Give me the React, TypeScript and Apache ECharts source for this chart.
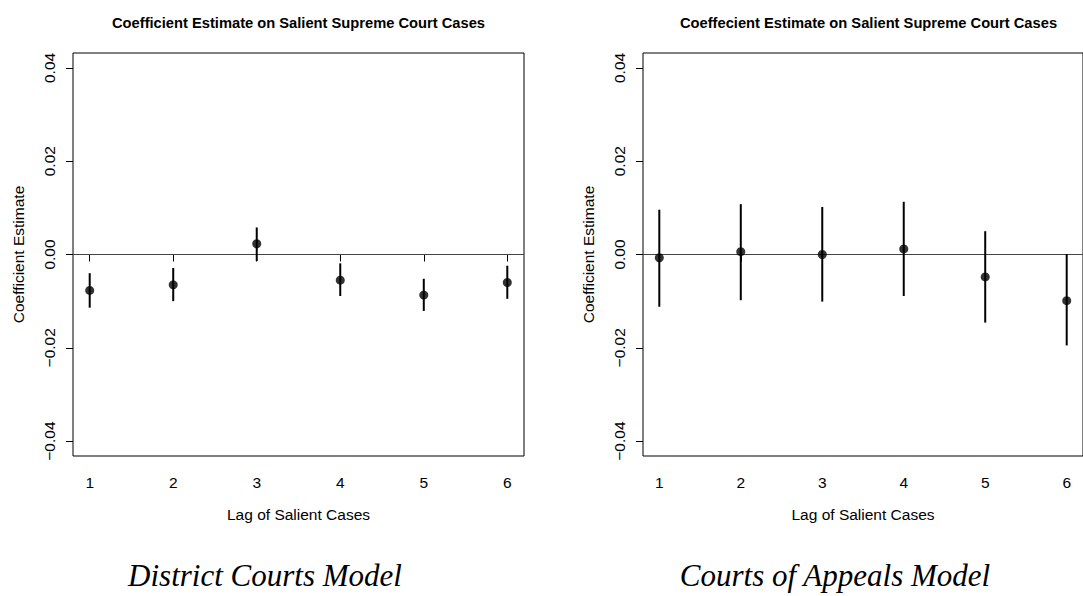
import React, { useEffect, useRef } from "react";
import * as echarts from "echarts";

const lags = [1, 2, 3, 4, 5, 6];
const districtEst = [-0.0077, -0.0065, 0.0023, -0.0055, -0.0087, -0.006];
const districtLow = [-0.0114, -0.01, -0.0014, -0.0089, -0.0121, -0.0095];
const districtHigh = [-0.004, -0.0029, 0.0058, -0.0019, -0.0052, -0.0024];
const appealsEst = [-0.0007, 0.0006, 0.0, 0.0012, -0.0048, -0.0099];
const appealsLow = [-0.0112, -0.0098, -0.0101, -0.0089, -0.0146, -0.0195];
const appealsHigh = [0.0096, 0.0108, 0.0102, 0.0113, 0.005, 0.0001];
const yTicks = [-0.04, -0.02, 0, 0.02, 0.04];
const xTicks = [1, 2, 3, 4, 5, 6];
const titles = [
  "Coefficient Estimate on Salient Supreme Court Cases",
  "Coeffecient Estimate on Salient Supreme Court Cases",
];
const captions = ["District Courts Model", "Courts of Appeals Model"];
const xName = "Lag of Salient Cases";
const yName = "Coefficient Estimate";

const FONT = "'Liberation Sans', Arial, Helvetica, sans-serif";
const SERIF = "'Liberation Serif', 'DejaVu Serif', serif";
const FS = 15.5;

const fmt = (v: number) => {
  const s = Math.abs(v).toFixed(2);
  return v < 0 ? "\u2212" + s : s;
};

const panels = [
  { est: districtEst, low: districtLow, high: districtHigh, left: 73, titleX: 298.5, capX: 265 },
  { est: appealsEst, low: appealsLow, high: appealsHigh, left: 643, titleX: 868.5, capX: 835 },
];

export default function App() {
  const ref = useRef<HTMLDivElement>(null);
  useEffect(() => {
    if (!ref.current) return;
    const chart = echarts.init(ref.current, null, { renderer: "svg" });
    const grids: any[] = [];
    const xAxes: any[] = [];
    const yAxes: any[] = [];
    const series: any[] = [];
    const graphics: any[] = [];
    panels.forEach((p, i) => {
      grids.push({
        left: p.left,
        top: 53,
        width: 451,
        height: 403,
        show: true,
        borderColor: "#000",
        borderWidth: 1,
        backgroundColor: "transparent",
      });
      xAxes.push({
        type: "value",
        gridIndex: i,
        min: 0.8,
        max: 6.2,
        position: "bottom",
        axisLine: { show: false },
        axisTick: { show: true, customValues: xTicks, length: 7, lineStyle: { color: "#000", width: 1 } },
        axisLabel: { customValues: xTicks, margin: 18, fontSize: FS, color: "#000", fontFamily: FONT },
        splitLine: { show: false },
        name: xName,
        nameLocation: "middle",
        nameGap: 50,
        nameTextStyle: { fontSize: FS, color: "#000", fontFamily: FONT },
      });
      yAxes.push({
        type: "value",
        gridIndex: i,
        min: -0.0432,
        max: 0.0432,
        position: "left",
        axisLine: { show: false },
        axisTick: { show: true, customValues: yTicks, length: 7, lineStyle: { color: "#000", width: 1 } },
        axisLabel: {
          customValues: yTicks,
          rotate: 90,
          formatter: fmt,
          margin: 16,
          fontSize: FS,
          color: "#000",
          fontFamily: FONT,
        },
        splitLine: { show: false },
        name: yName,
        nameLocation: "middle",
        nameGap: 47,
        nameRotate: 90,
        nameTextStyle: { fontSize: FS, color: "#000", fontFamily: FONT },
      });
      series.push({
        type: "custom",
        xAxisIndex: i,
        yAxisIndex: i,
        data: lags.map((x, k) => [x, p.low[k], p.high[k]]),
        renderItem: (params: any, api: any) => {
          const a = api.coord([api.value(0), api.value(1)]);
          const b = api.coord([api.value(0), api.value(2)]);
          return {
            type: "line",
            shape: { x1: a[0], y1: a[1], x2: b[0], y2: b[1] },
            style: { stroke: "#000", lineWidth: 2 },
          };
        },
        silent: true,
        z: 2,
      });
      series.push({
        type: "scatter",
        xAxisIndex: i,
        yAxisIndex: i,
        data: lags.map((x, k) => [x, p.est[k]]),
        symbol: "circle",
        symbolSize: 9,
        itemStyle: { color: "#000" },
        silent: true,
        z: 3,
        markLine: {
          silent: true,
          symbol: "none",
          label: { show: false },
          lineStyle: { color: "#444", width: 1, type: "solid" },
          data: [{ yAxis: 0 }],
          z: 1,
        },
      });
      graphics.push({
        type: "text",
        x: p.titleX,
        y: 23,
        style: {
          text: titles[i],
          font: `bold 14.7px ${FONT}`,
          fill: "#000",
          textAlign: "center",
          textVerticalAlign: "middle",
        },
      });
      graphics.push({
        type: "text",
        x: p.capX,
        y: 575,
        style: {
          text: captions[i],
          font: `italic 31px ${SERIF}`,
          fill: "#000",
          textAlign: "center",
          textVerticalAlign: "middle",
        },
      });
    });
    chart.setOption({
      animation: false,
      backgroundColor: "#fff",
      grid: grids,
      xAxis: xAxes,
      yAxis: yAxes,
      series,
      graphic: graphics,
    });
    return () => chart.dispose();
  }, []);
  return (
    <div
      ref={ref}
      style={{ position: "absolute", left: 0, top: 0, width: 1083, height: 596 }}
    />
  );
}
